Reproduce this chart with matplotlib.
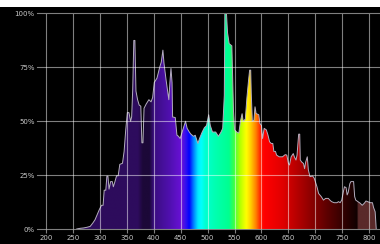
import numpy as np
import matplotlib
matplotlib.use('Agg')
import matplotlib.pyplot as plt
from matplotlib.colors import LinearSegmentedColormap
from matplotlib.patches import Polygon, Rectangle

# ---- data ----
wavelength = [257, 263, 270, 276, 282, 287, 291, 295, 299, 303, 306, 308, 311, 313, 315,
              317, 320, 323, 325, 328, 331, 334, 337, 342, 345, 348, 351, 354, 357, 359,
              361, 363, 365, 367, 370, 373, 376, 378, 380, 382, 386, 391, 395, 398, 401,
              406, 411, 414, 417, 419, 423, 428, 430, 432, 434, 435, 440, 443, 446, 449,
              454, 459, 462, 466, 469, 474, 477, 482, 485, 490, 494, 498, 502, 505, 509,
              515, 520, 525, 528, 531, 532, 535, 537, 540, 545, 548, 550, 554, 558, 561,
              564, 566, 570, 573, 576, 578, 580, 581, 583, 586, 588, 590, 595, 597, 600,
              602, 605, 609, 612, 615, 618, 621, 623, 626, 628, 633, 639, 644, 647, 650,
              652, 655, 659, 661, 664, 666, 669, 671, 672, 675, 678, 680, 682, 685, 687,
              690, 695, 698, 703, 706, 711, 715, 719, 724, 727, 730, 735, 740, 743, 746,
              749, 752, 754, 757, 759, 761, 764, 766, 771, 773, 775, 779, 783, 787, 791,
              794, 797, 802, 806, 808, 811, 813]
intensity = [0, 0.3, 0.5, 0.8, 1.2, 2.8, 4.3, 6.6, 9, 11, 11, 18, 18, 24.5, 24.5,
             18.5, 22, 22, 19.6, 22, 24.7, 24.7, 30, 30.5, 36, 46, 54, 54, 50, 52,
             65, 87.5, 87.5, 64, 60, 57.5, 57, 40, 40, 56, 58, 60, 59, 61, 68,
             70, 75, 77.5, 83, 77, 69, 60, 68, 74.5, 68, 52, 51.7, 43.6, 43, 42,
             46, 50, 46.7, 45, 44, 43, 43.5, 39.7, 42, 45, 47, 48, 53, 48, 45,
             45, 43, 45, 46.7, 62, 100, 100, 91, 86, 85, 55, 46, 45, 44.5, 50,
             53.5, 50, 51, 61, 69, 73.7, 73.7, 63, 50, 50.5, 56.7, 53.6, 53, 49, 48,
             42, 46.7, 46, 43.6, 40.5, 39.7, 39.7, 36, 36, 34.3, 33.5, 33.5, 34.5, 34.3, 30.4,
             29.7, 33.5, 35, 33.5, 32, 34.3, 44, 44, 32, 31, 30.4, 28, 31, 33.5, 27.4,
             24.3, 24.6, 23.5, 19.6, 16.5, 15, 13.4, 14.2, 14.2, 13.4, 12.7, 12.2, 12.2, 12.7, 12.2,
             13.4, 17.3, 19.6, 19.2, 15.8, 17, 21, 22, 22, 15, 13.4, 12.7, 12, 11, 12,
             13, 12.7, 12.2, 12.2, 10, 8, 0]
x_ticks = [200, 250, 300, 350, 400, 450, 500, 550, 600, 650, 700, 750, 800]
y_ticks = [0, 25, 50, 75, 100]
y_tick_labels = ['0%', '25%', '50%', '75%', '100%']

# ---- spectrum colour stops (style) ----
stop_nm = [183, 370, 380, 392, 400, 430, 452, 460, 466, 474, 482, 488, 496, 515, 540,
           550, 560, 572, 580, 590, 600, 606, 640, 680, 720, 760, 778, 780, 820]
stop_col = ['#2c0c58', '#2e0c5e', '#1c0838', '#1c0838', '#3a0e80', '#5010b0', '#6a10d8',
            '#3010f0', '#0000ff', '#0080ff', '#00e8ff', '#00ffff', '#00ffd0', '#00ffb0',
            '#00ff90', '#40ff40', '#b0ff00', '#ffff00', '#ffd000', '#ff8000', '#ff1000',
            '#ff0000', '#e00000', '#a00000', '#600000', '#280000', '#100000', '#5a2a2a',
            '#5a2a2a']

W, H = 380, 244
fig = plt.figure(figsize=(W / 100, H / 100), dpi=100, facecolor='black')
fig.patches.append(Rectangle((0, 1 - 7 / H), 1, 7 / H, transform=fig.transFigure,
                             facecolor='white', edgecolor='none', zorder=-5))
ax = fig.add_axes([37 / W, 15 / H, 343 / W, 215.5 / H])
ax.set_facecolor('black')
x0, x1 = 183.3, 820
ax.set_xlim(x0, x1)
ax.set_ylim(0, 100)
for s in ax.spines.values():
    s.set_visible(False)

pos = [(n - x0) / (x1 - x0) for n in stop_nm]
pos[0] = 0.0
pos[-1] = 1.0
cmap = LinearSegmentedColormap.from_list('spec', list(zip(pos, stop_col)), N=1024)
grad = np.linspace(0, 1, 1400).reshape(1, -1)
im = ax.imshow(grad, cmap=cmap, aspect='auto', extent=[x0, x1, 0, 100],
               origin='lower', interpolation='bilinear', zorder=1)

verts = np.column_stack([[wavelength[0]] + wavelength + [wavelength[-1]],
                         [0] + intensity + [0]])
poly = Polygon(verts, closed=True, facecolor='none', edgecolor='none',
               transform=ax.transData)
ax.add_patch(poly)
im.set_clip_path(poly)

ax.plot(wavelength, intensity, color='#b4aebe', lw=0.7, zorder=2)

gcol = (1, 1, 1, 0.5)
for y in y_ticks:
    ax.axhline(y, color=gcol, lw=0.8, zorder=3, clip_on=False)
for x in x_ticks:
    ax.axvline(x, color=gcol, lw=0.8, zorder=3)

ax.set_xticks(x_ticks)
ax.set_xticklabels([str(t) for t in x_ticks])
ax.set_yticks(y_ticks)
ax.set_yticklabels(y_tick_labels)
ax.tick_params(axis='x', length=3, width=0.8, color=gcol, pad=1.2,
               labelsize=5, labelcolor='#c8c8c8')
ax.tick_params(axis='y', length=0, pad=1.6, labelsize=5, labelcolor='#c8c8c8')

fig.savefig('out.png', dpi=100, facecolor='black')
